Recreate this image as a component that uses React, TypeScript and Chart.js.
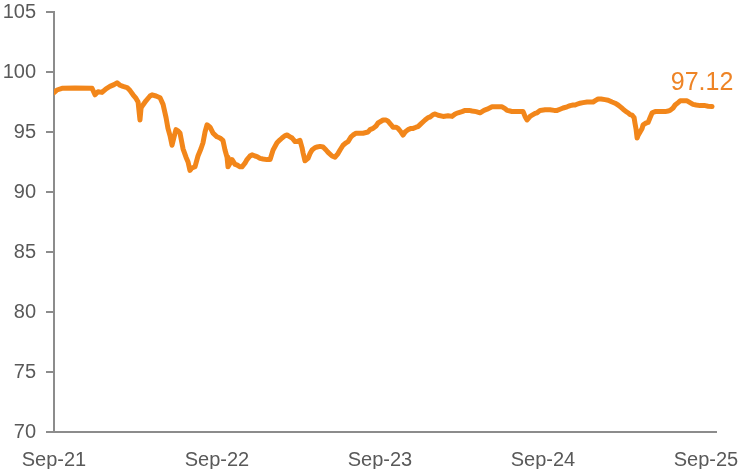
import React, { useEffect, useRef } from "react";
import { Chart, registerables } from "chart.js";

Chart.register(...registerables);

// x: months elapsed since Sep-21
const monthsSinceSep21 = [
  0, 0.22, 0.59, 1.55, 2.8, 3.02, 3.24, 3.53, 3.83, 4.12, 4.42, 4.64, 4.86, 5.08, 5.38, 5.6, 5.82, 6.04, 6.19, 6.33,
  6.41, 6.55, 6.77, 7.07, 7.22, 7.51, 7.81, 8.03, 8.25, 8.39, 8.54, 8.69, 8.84, 8.98, 9.13, 9.28, 9.5, 9.72, 9.87, 10.01,
  10.16, 10.38, 10.6, 10.82, 10.97, 11.12, 11.27, 11.49, 11.71, 12.0, 12.22, 12.44, 12.59, 12.74, 12.81, 12.96, 13.11, 13.33, 13.48, 13.7,
  13.84, 14.06, 14.21, 14.43, 14.58, 14.8, 14.95, 15.17, 15.39, 15.68, 15.91, 16.13, 16.42, 16.64, 16.79, 17.01, 17.16, 17.38, 17.53, 17.75,
  17.89, 18.11, 18.26, 18.34, 18.48, 18.7, 18.85, 19.0, 19.22, 19.37, 19.59, 19.81, 20.03, 20.18, 20.47, 20.69, 20.91, 21.06, 21.28, 21.5,
  21.65, 21.87, 22.02, 22.24, 22.39, 22.75, 23.12, 23.27, 23.49, 23.71, 23.86, 24.23, 24.45, 24.59, 24.82, 24.96, 25.18, 25.33, 25.55, 25.7,
  25.85, 26.07, 26.29, 26.44, 26.66, 26.8, 27.03, 27.32, 27.54, 27.69, 27.91, 28.06, 28.28, 28.65, 29.01, 29.31, 29.53, 29.75, 30.04, 30.27,
  30.56, 30.78, 31.08, 31.37, 31.66, 31.89, 32.25, 32.62, 32.99, 33.21, 33.36, 33.58, 33.73, 34.17, 34.54, 34.68, 34.83, 35.05, 35.2, 35.42,
  35.57, 35.79, 36.16, 36.52, 36.82, 37.04, 37.26, 37.48, 37.78, 38.0, 38.22, 38.37, 38.59, 38.73, 38.95, 39.25, 39.47, 39.69, 39.91, 40.06,
  40.28, 40.57, 40.8, 41.09, 41.31, 41.53, 41.75, 41.9, 42.12, 42.27, 42.42, 42.56, 42.71, 42.78, 42.86, 42.93, 43.0, 43.15, 43.3, 43.37,
  43.59, 43.74, 43.89, 44.04, 44.26, 44.63, 45.0, 45.21, 45.36, 45.58, 45.73, 45.95, 46.1, 46.39, 46.61, 46.83, 47.05, 47.28, 47.57, 47.94,
  48.16, 48.45,
];

const indexValues = [
  98.27, 98.5, 98.64, 98.66, 98.65, 98.1, 98.35, 98.3, 98.6, 98.8, 98.95, 99.1, 98.9, 98.8, 98.7, 98.45, 98.1, 97.8, 97.5, 96.0,
  97.0, 97.25, 97.6, 98.0, 98.1, 98.0, 97.85, 97.3, 96.2, 95.3, 94.7, 93.9, 94.6, 95.2, 95.1, 94.9, 93.6, 92.9, 92.5, 91.8,
  92.0, 92.1, 93.0, 93.6, 94.1, 95.0, 95.6, 95.4, 94.9, 94.6, 94.5, 94.3, 93.5, 92.9, 92.1, 92.4, 92.7, 92.3, 92.25, 92.1,
  92.1, 92.4, 92.7, 93.0, 93.1, 93.0, 92.95, 92.8, 92.75, 92.7, 92.7, 93.5, 94.1, 94.35, 94.5, 94.7, 94.75, 94.6, 94.5, 94.2,
  94.2, 94.3, 93.7, 93.25, 92.6, 92.8, 93.2, 93.5, 93.7, 93.75, 93.8, 93.75, 93.5, 93.3, 93.0, 92.9, 93.2, 93.5, 93.9, 94.1,
  94.2, 94.6, 94.75, 94.9, 94.9, 94.9, 95.0, 95.2, 95.3, 95.5, 95.75, 96.0, 96.0, 95.9, 95.6, 95.4, 95.4, 95.3, 95.0, 94.75,
  95.0, 95.2, 95.3, 95.3, 95.4, 95.45, 95.7, 96.0, 96.2, 96.25, 96.45, 96.5, 96.4, 96.3, 96.35, 96.3, 96.5, 96.6, 96.7, 96.8,
  96.8, 96.75, 96.7, 96.6, 96.8, 96.9, 97.1, 97.1, 97.1, 96.95, 96.8, 96.75, 96.7, 96.7, 96.7, 96.3, 96.0, 96.3, 96.4, 96.55,
  96.6, 96.8, 96.85, 96.85, 96.8, 96.8, 96.9, 97.0, 97.1, 97.2, 97.25, 97.25, 97.35, 97.4, 97.45, 97.5, 97.5, 97.5, 97.65, 97.75,
  97.75, 97.7, 97.65, 97.5, 97.4, 97.25, 97.05, 96.9, 96.7, 96.6, 96.45, 96.4, 96.2, 95.7, 95.2, 94.5, 94.7, 95.0, 95.3, 95.6,
  95.75, 95.8, 96.2, 96.6, 96.7, 96.7, 96.7, 96.75, 96.8, 97.0, 97.25, 97.45, 97.6, 97.6, 97.6, 97.45, 97.3, 97.25, 97.2, 97.2,
  97.15, 97.12,
];

const xTickMonths = [0, 12, 24, 36, 48];
const xTickLabels = ["Sep-21", "Sep-22", "Sep-23", "Sep-24", "Sep-25"];
const yMin = 70;
const yMax = 105;
const yStep = 5;
const xMax = 48.74;

const LINE_COLOR = "#F2861A";
const LABEL_COLOR = "#EE8426";
const AXIS_COLOR = "#8C8C8C";
const TEXT_COLOR = "#595959";
const FONT_FAMILY = "'Liberation Sans', Arial, sans-serif";

const lastLabelPlugin = {
  id: "lastLabel",
  afterDatasetsDraw(chart: any) {
    const meta = chart.getDatasetMeta(0);
    const pts = meta.data;
    if (!pts || !pts.length) return;
    const last = pts[pts.length - 1];
    const value = indexValues[indexValues.length - 1];
    const ctx = chart.ctx;
    ctx.save();
    ctx.font = `25px ${FONT_FAMILY}`;
    ctx.fillStyle = LABEL_COLOR;
    ctx.textAlign = "center";
    ctx.textBaseline = "alphabetic";
    ctx.fillText(value.toFixed(2), last.x - 10, last.y - 17);
    ctx.restore();
  },
};

const zeroPadding = (scale: any) => {
  scale.paddingTop = 0;
  scale.paddingBottom = 0;
  scale.paddingLeft = 0;
  scale.paddingRight = 0;
};

export default function App() {
  const canvasRef = useRef<HTMLCanvasElement | null>(null);

  useEffect(() => {
    const canvas = canvasRef.current;
    if (!canvas) return;
    const chart = new Chart(canvas, {
      type: "line",
      data: {
        datasets: [
          {
            data: monthsSinceSep21.map((m, i) => ({ x: m, y: indexValues[i] })),
            borderColor: LINE_COLOR,
            backgroundColor: LINE_COLOR,
            borderWidth: 5,
            pointRadius: 0,
            tension: 0,
            fill: false,
            borderJoinStyle: "round",
            borderCapStyle: "round",
          },
        ],
      },
      options: {
        responsive: false,
        animation: false,
        layout: { padding: { top: 12, right: 26, left: 0, bottom: 0 } },
        plugins: {
          legend: { display: false },
          tooltip: { enabled: false },
        },
        scales: {
          x: {
            type: "linear",
            min: 0,
            max: xMax,
            afterBuildTicks: (scale: any) => {
              scale.ticks = xTickMonths.map((v) => ({ value: v }));
            },
            afterFit: (scale: any) => {
              scale.height = 37;
              zeroPadding(scale);
            },
            grid: { display: false, drawTicks: false },
            border: { display: true, color: AXIS_COLOR, width: 2 },
            ticks: {
              autoSkip: false,
              maxRotation: 0,
              padding: 16,
              color: TEXT_COLOR,
              font: { family: FONT_FAMILY, size: 20 },
              callback: (v: any) => {
                const idx = xTickMonths.indexOf(Number(v));
                return idx >= 0 ? xTickLabels[idx] : "";
              },
            },
          },
          y: {
            type: "linear",
            min: yMin,
            max: yMax,
            afterFit: (scale: any) => {
              scale.width = 54;
              zeroPadding(scale);
            },
            grid: {
              display: true,
              drawOnChartArea: false,
              drawTicks: true,
              tickLength: 8,
              color: AXIS_COLOR,
              lineWidth: 2,
            },
            border: { display: true, color: AXIS_COLOR, width: 2 },
            ticks: {
              stepSize: yStep,
              padding: 10,
              color: TEXT_COLOR,
              font: { family: FONT_FAMILY, size: 20 },
            },
          },
        },
      },
      plugins: [lastLabelPlugin],
    } as any);
    return () => chart.destroy();
  }, []);

  return (
    <div style={{ position: "fixed", left: 0, top: 0, width: 742, height: 469, background: "#fff" }}>
      <canvas ref={canvasRef} width={742} height={469} style={{ display: "block", width: 742, height: 469 }} />
    </div>
  );
}
